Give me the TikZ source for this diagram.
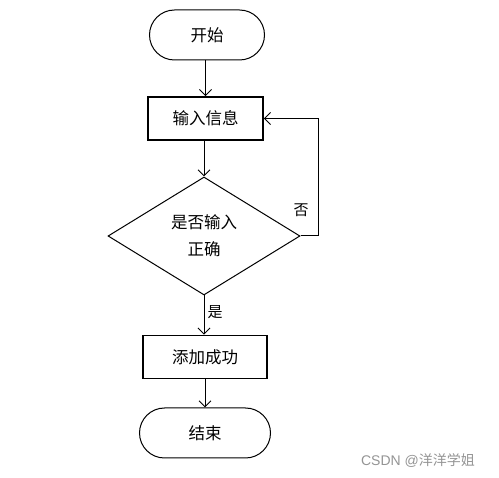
\documentclass[tikz,border=0pt]{standalone}
\usepackage{fontspec}
\setmainfont{Liberation Sans}
\newfontfamily\cjk{Noto Sans CJK SC}
\usetikzlibrary{shapes.geometric,arrows.meta}
\begin{document}
\begin{tikzpicture}[x=1pt,y=-1pt,
  every node/.style={font=\cjk\fontsize{16.5}{20}\selectfont},
  term/.style={draw,line width=1pt,rounded corners=25pt,minimum width=#1,minimum height=50pt,inner sep=0pt},
  procbox/.style={draw,line width=1.6pt,minimum width=#1,minimum height=43pt,inner sep=0pt},
  decision/.style={draw,line width=1pt,diamond,aspect=1.64,minimum width=192pt,minimum height=118pt,inner sep=0pt,align=center,text width=90pt},
  flow/.style={line width=1pt,-{Straight Barb[length=6pt,width=12pt]}},
  lbl/.style={font=\cjk\fontsize{15}{16}\selectfont}]
\useasboundingbox (0,0) rectangle (499,478);
\node[term=115pt] (start) at (207,35) {开始};
\node[procbox=115pt] (input) at (205.5,118.5) {输入信息};
\node[decision] (dec) at (204,236) {是否输入\\[7pt]正确};
\node[procbox=124pt] (succ) at (205,357) {添加成功};
\node[term=131pt] (end) at (205,433) {结束};
\coordinate (c1) at (318,236);
\coordinate (c2) at (318,118.5);
\draw[flow] (start.south -| input.north) -- (input.north);
\draw[flow] (input.south -| dec.north) -- (dec.north);
\draw[flow] (dec.south) -- (succ.north -| dec.south);
\draw[flow] (succ.south) -- (end.north);
\draw[flow] (dec.east) -- (c1) -- (c2) -- (input.east);
\node[lbl] (no) at (301,210) {否};
\node[lbl] (yes) at (215,312) {是};
\node[font=\fontsize{14}{16}\selectfont,text=black!42] (wm) at (418,461) {CSDN @{\cjk 洋洋学姐}};
\end{tikzpicture}
\end{document}
